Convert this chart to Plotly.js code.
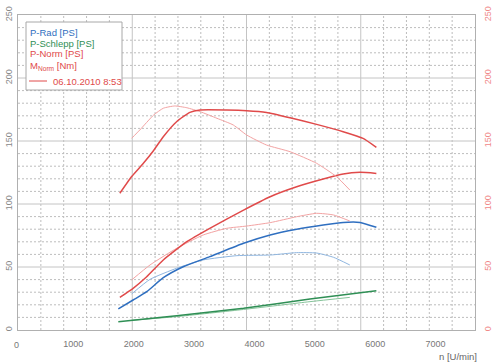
<!DOCTYPE html>
<html>
<head>
<meta charset="utf-8">
<script src="https://cdn.plot.ly/plotly-3.0.1.min.js"></script>
<style>html,body{margin:0;padding:0;background:#fff;}#chart{width:500px;height:364px;}</style>
</head>
<body>
<div id="chart"></div>
<script>
// ---- data ----
const xTicks = [1000, 2000, 3000, 4000, 5000, 6000, 7000];
const yTicks = [0, 50, 100, 150, 200, 250];

const pRadRpm = [1745, 1990, 2215, 2490, 2820, 3260, 3820, 4260, 4700, 5140, 5470, 5750, 6020];
const pRadVal = [16.7, 23.8, 30.4, 41.5, 50.2, 58.2, 68.8, 75.4, 79.9, 83.3, 85.4, 85.4, 81.5];
const pRadOldRpm = [1965, 2270, 2710, 3150, 3710, 4260, 4700, 5030, 5310, 5580];
const pRadOldVal = [28.6, 40.2, 49.0, 55.6, 59.0, 59.5, 61.4, 61.1, 57.7, 51.6];

const pSchleppRpm = [1745, 2710, 3820, 4920, 6020];
const pSchleppVal = [6.6, 11.4, 17.2, 24.6, 31.2];
const pSchleppOldRpm = [1965, 2710, 3820, 4920, 5580];
const pSchleppOldVal = [7.7, 10.6, 16.3, 22.5, 25.9];

const pNormRpm = [1770, 1990, 2215, 2490, 2880, 3260, 3820, 4260, 4700, 5140, 5470, 5750, 6020];
const pNormVal = [25.9, 33.1, 42.3, 55.6, 70.1, 80.7, 95.2, 105.8, 113.7, 119.8, 123.8, 125.1, 124.3];
const pNormOldRpm = [1965, 2270, 2710, 3150, 3540, 3870, 4260, 4700, 5030, 5310, 5580];
const pNormOldVal = [39.7, 51.6, 64.8, 75.4, 80.7, 82.5, 85.2, 89.9, 92.6, 91.3, 86.5];

const mNormRpm = [1770, 1970, 2160, 2330, 2490, 2710, 2930, 3100, 3540, 3870, 4200, 4590, 5030, 5470, 5800, 6020];
const mNormVal = [108.5, 122, 132.3, 142.5, 153.4, 165.3, 172.7, 174.6, 174.6, 174.1, 172.7, 168.5, 163.2, 157.4, 152.1, 145];
const mNormOldRpm = [1965, 2100, 2330, 2490, 2680, 2880, 3100, 3380, 3650, 3870, 4200, 4590, 5030, 5360, 5580];
const mNormOldVal = [152.1, 158.7, 170.6, 176, 177.8, 176.4, 173.3, 168, 162.7, 154.8, 146.8, 141.5, 132.3, 121.7, 111.1];

const legendLabels = ['P-Rad [PS]', 'P-Schlepp [PS]', 'P-Norm [PS]', 'M<sub>Norm</sub> [Nm]'];
const dateLabel = '06.10.2010 8:53';
const xAxisLabel = 'n [U/min]';

// ---- styles ----
const BLUE = '#2f6fc0', BLUE_L = '#8fb6e0';
const GREEN = '#2f8f55', GREEN_L = '#86c49a';
const RED = '#e04a4a', RED_L = '#f3a3a3';
const FONT = 'Liberation Sans, Arial, sans-serif';

function tr(x, y, color, width, yaxis) {
  return {x: x, y: y, type: 'scatter', mode: 'lines', yaxis: yaxis || 'y',
          line: {color: color, width: width, shape: 'spline', smoothing: 0.5},
          hoverinfo: 'skip'};
}

const traces = [
  tr(pSchleppOldRpm, pSchleppOldVal, GREEN_L, 1),
  tr(pSchleppRpm, pSchleppVal, GREEN, 1.5),
  tr(pRadOldRpm, pRadOldVal, BLUE_L, 1),
  tr(pRadRpm, pRadVal, BLUE, 1.5),
  tr(pNormOldRpm, pNormOldVal, RED_L, 1),
  tr(pNormRpm, pNormVal, RED, 1.5),
  tr(mNormOldRpm, mNormOldVal, RED_L, 1, 'y2'),
  tr(mNormRpm, mNormVal, RED, 1.5, 'y2')
];

// grid lines (paper coordinates)
const shapes = [];
for (let i = 1; i < 20; i++) {
  const major = i % 5 === 0;
  shapes.push({type: 'line', xref: 'paper', yref: 'paper', x0: i / 20, x1: i / 20, y0: 0, y1: 1, layer: 'below',
    line: {color: major ? '#c4c4c4' : '#bdbdbd', width: 1, dash: major ? 'solid' : '2px,2px'}});
}
for (let j = 1; j < 25; j++) {
  const major = j % 5 === 0;
  shapes.push({type: 'line', xref: 'paper', yref: 'paper', y0: j / 25, y1: j / 25, x0: 0, x1: 1, layer: 'below',
    line: {color: major ? '#c4c4c4' : '#bdbdbd', width: 1, dash: major ? 'solid' : '2px,2px'}});
}
// legend box
const W = 457, H = 315, L = 18, B = 330;
const px = v => (v - L) / W, py = v => (B - v) / H;
shapes.push({type: 'rect', xref: 'paper', yref: 'paper', x0: px(26), x1: px(122), y0: py(90), y1: py(22),
  layer: 'above', fillcolor: '#ffffff', line: {color: '#a8a8a8', width: 1}});
shapes.push({type: 'line', xref: 'paper', yref: 'paper', x0: px(29), x1: px(47), y0: py(81), y1: py(81),
  layer: 'above', line: {color: RED, width: 1}});

const legendColors = [BLUE, GREEN, RED, RED];
const legendY = [32, 43, 53, 66];
const annotations = legendLabels.map((t, i) => ({
  text: t, xref: 'paper', yref: 'paper', x: px(28), y: py(legendY[i]), xanchor: 'left', yanchor: 'middle',
  showarrow: false, font: {family: FONT, size: 9.5, color: legendColors[i]}
}));
annotations.push({text: dateLabel, xref: 'paper', yref: 'paper', x: px(51), y: py(81), xanchor: 'left', yanchor: 'middle',
  showarrow: false, font: {family: FONT, size: 9.5, color: RED}});
annotations.push({text: xAxisLabel, xref: 'paper', yref: 'paper', x: px(479), y: py(356), xanchor: 'right', yanchor: 'middle',
  showarrow: false, font: {family: FONT, size: 9.5, color: '#666'}});
annotations.push({text: '0', xref: 'paper', yref: 'paper', x: px(16), y: py(345), xanchor: 'center', yanchor: 'middle',
  showarrow: false, font: {family: FONT, size: 9, color: '#777'}});

const layout = {
  width: 500, height: 364,
  margin: {l: 18, r: 25, t: 15, b: 34, pad: 0},
  paper_bgcolor: '#ffffff', plot_bgcolor: '#ffffff',
  showlegend: false,
  font: {family: FONT, size: 9, color: '#777'},
  xaxis: {range: [83, 7654], tickvals: xTicks, showgrid: false, zeroline: false, showline: true,
          linecolor: '#b0b0b0', linewidth: 1, mirror: true, ticks: '', ticklabelstandoff: 5,
          tickfont: {family: FONT, size: 9, color: '#777'}},
  yaxis: {range: [0, 250], tickvals: yTicks, tickangle: -90, showgrid: false, zeroline: false, showline: true,
          linecolor: '#b0b0b0', linewidth: 1, mirror: true, ticks: '', ticklabelstandoff: 1,
          tickfont: {family: FONT, size: 9, color: '#888'}},
  yaxis2: {range: [0, 250], tickvals: yTicks, tickangle: -90, overlaying: 'y', side: 'right', showgrid: false,
           zeroline: false, showline: false, ticks: '', ticklabelstandoff: 6,
           tickfont: {family: FONT, size: 9, color: '#f08888'}},
  shapes: shapes,
  annotations: annotations
};

Plotly.newPlot('chart', traces, layout, {displayModeBar: false, staticPlot: true});
</script>
</body>
</html>
